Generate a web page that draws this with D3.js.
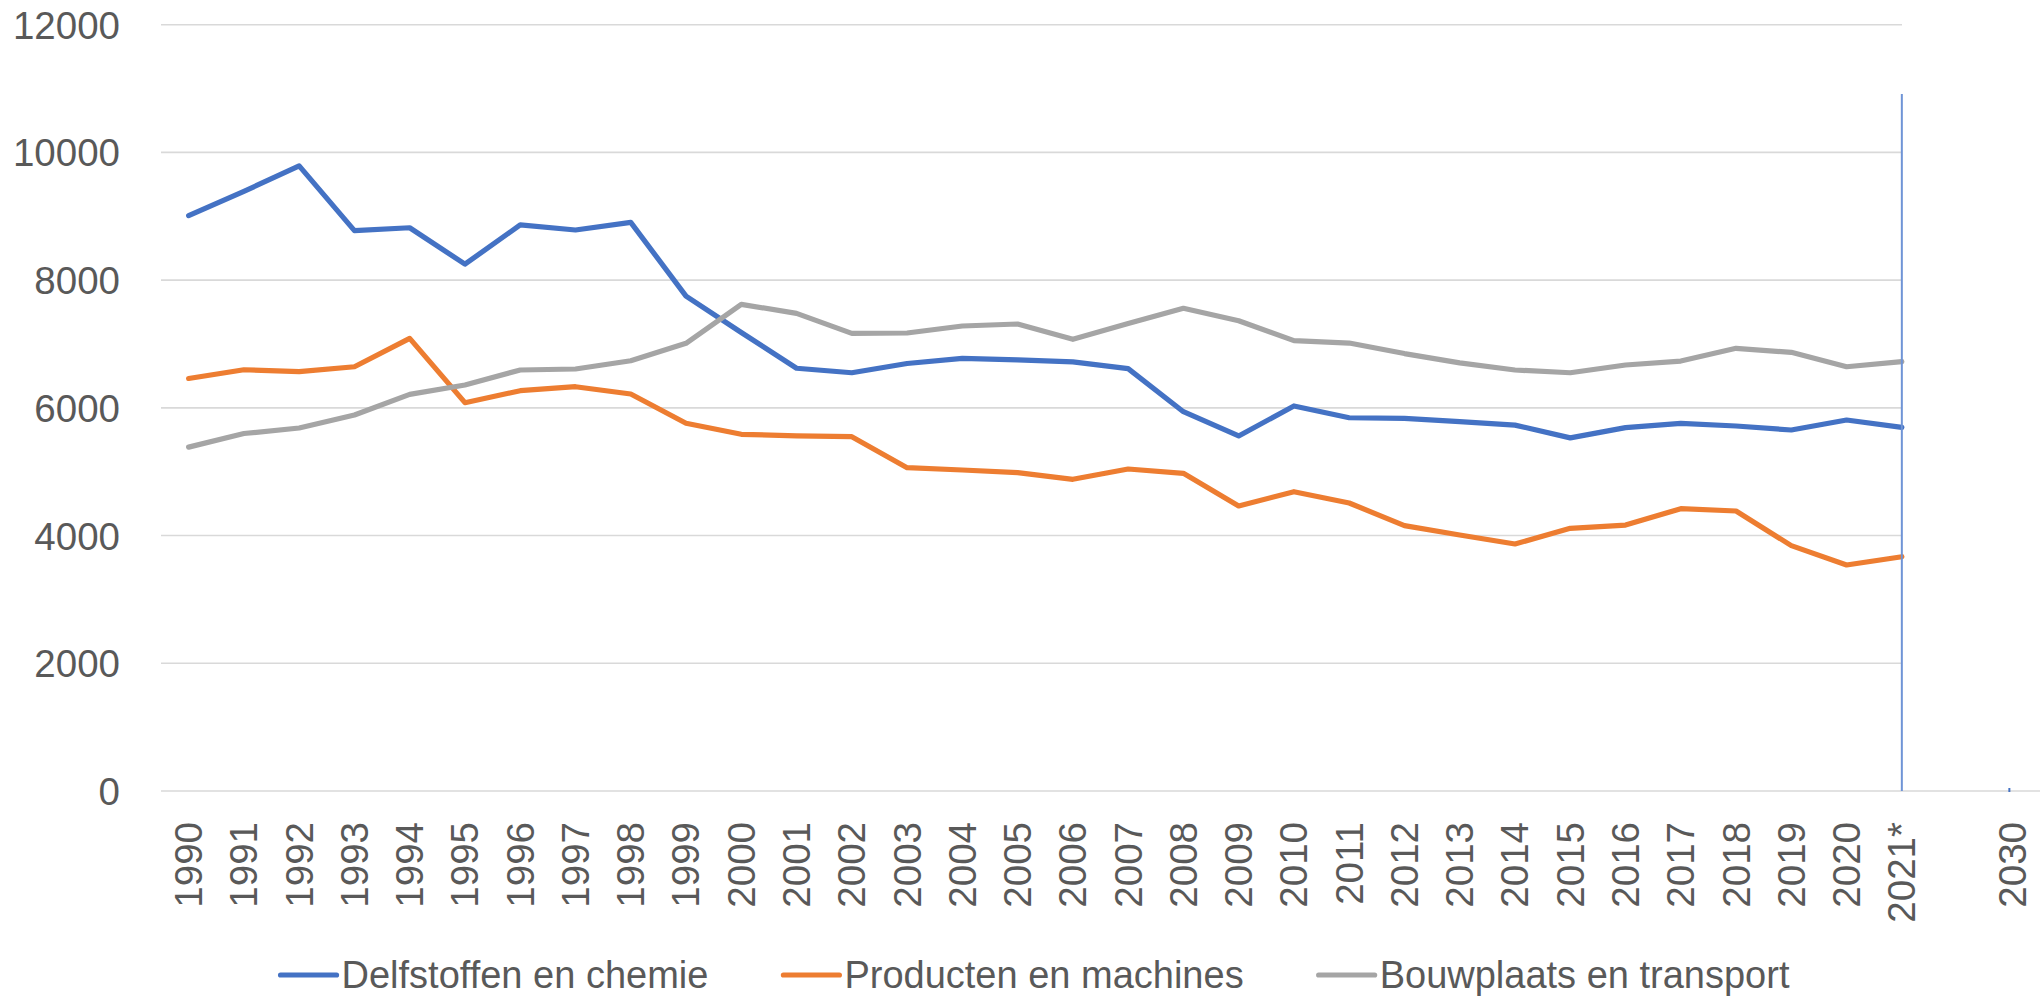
<!DOCTYPE html>
<html>
<head>
<meta charset="utf-8">
<script src="https://cdn.jsdelivr.net/npm/d3@7"></script>
<style>
  html, body { margin: 0; padding: 0; background: #ffffff; }
  svg { display: block; }
  text { font-family: "Liberation Sans", Arial, sans-serif; fill: #595959; }
</style>
</head>
<body>
<svg id="chart" width="2040" height="997"></svg>
<script>
// ---- Data ----
const categories = ["1990","1991","1992","1993","1994","1995","1996","1997","1998","1999",
  "2000","2001","2002","2003","2004","2005","2006","2007","2008","2009",
  "2010","2011","2012","2013","2014","2015","2016","2017","2018","2019",
  "2020","2021*","","2030"];

const delfstoffen = [9010, 9390, 9790, 8775, 8820, 8250, 8865, 8785, 8905, 7750,
  7180, 6620, 6550, 6695, 6775, 6750, 6720, 6615, 5940, 5560,
  6030, 5845, 5836, 5785, 5730, 5530, 5690, 5758, 5716, 5653,
  5810, 5695];

const producten = [6460, 6597, 6566, 6644, 7088, 6081, 6269, 6331, 6217, 5758,
  5586, 5560, 5548, 5063, 5027, 4985, 4881, 5042, 4975, 4463,
  4687, 4510, 4155, 4009, 3868, 4113, 4165, 4421, 4385, 3842,
  3539, 3669];

const bouwplaats = [5385, 5598, 5684, 5888, 6212, 6358, 6593, 6608, 6738, 7011,
  7621, 7480, 7167, 7172, 7282, 7313, 7073, 7320, 7559, 7365,
  7052, 7015, 6850, 6705, 6593, 6550, 6671, 6733, 6932, 6869,
  6644, 6723];

const seriesNames = ["Delfstoffen en chemie", "Producten en machines", "Bouwplaats en transport"];
const seriesColors = ["#4472C4", "#ED7D31", "#A5A5A5"];
const yTicks = [0, 2000, 4000, 6000, 8000, 10000, 12000];

// ---- Layout ----
const svg = d3.select("#chart");
const plotLeft = 161, plotRight = 2040, plotTop = 24.7, plotBottom = 791;
const gridRight = 1902;

const x = d3.scalePoint().domain(d3.range(categories.length)).range([plotLeft, plotRight]).padding(0.5);
const y = d3.scaleLinear().domain([0, 12000]).range([plotBottom, plotTop]);

// gridlines
const grid = svg.append("g");
grid.selectAll("line.grid").data(yTicks.filter(d => d > 0)).enter().append("line")
  .attr("x1", plotLeft).attr("x2", gridRight)
  .attr("y1", d => y(d)).attr("y2", d => y(d))
  .attr("stroke", "#D9D9D9").attr("stroke-width", 1.6);
// baseline axis
grid.append("line")
  .attr("x1", plotLeft).attr("x2", plotRight)
  .attr("y1", y(0)).attr("y2", y(0))
  .attr("stroke", "#D9D9D9").attr("stroke-width", 1.6);

// y axis labels
const yAxis = d3.axisLeft(y).tickValues(yTicks).tickSize(0).tickPadding(0).tickFormat(d3.format("d"));
const yg = svg.append("g").attr("transform", `translate(120,0)`).call(yAxis);
yg.select(".domain").remove();
yg.selectAll("text").attr("font-size", "38.5px").attr("fill", "#595959")
  .attr("font-family", "'Liberation Sans', Arial, sans-serif").attr("dy", "0.35em");

// x axis labels (rotated)
const xg = svg.append("g");
xg.selectAll("text.xl").data(categories.map((c, i) => ({c, i}))).enter().append("text")
  .attr("class", "xl")
  .attr("transform", d => `translate(${x(d.i)},822) rotate(-90)`)
  .attr("text-anchor", "end")
  .attr("dy", "0.35em")
  .attr("font-size", "38.5px")
  .text(d => d.c);

// small tick at 2030
svg.append("line")
  .attr("x1", x(33) - 3).attr("x2", x(33) - 3)
  .attr("y1", y(0) - 3).attr("y2", y(0) + 1)
  .attr("stroke", "#4472C4").attr("stroke-width", 2);

// series lines
const seriesData = [delfstoffen, producten, bouwplaats];
const line = d3.line().x((d, i) => x(i)).y(d => y(d));
const lines = svg.append("g");
seriesData.forEach((s, k) => {
  lines.append("path")
    .datum(s)
    .attr("d", line)
    .attr("fill", "none")
    .attr("stroke", seriesColors[k])
    .attr("stroke-width", 5.2)
    .attr("stroke-linejoin", "round")
    .attr("stroke-linecap", "round");
});

// vertical marker line at 2021*
svg.append("line")
  .attr("x1", x(31)).attr("x2", x(31))
  .attr("y1", 94).attr("y2", y(0))
  .attr("stroke", "#6F94D6").attr("stroke-width", 2);

// legend
const legend = svg.append("g");
const legendY = 975;
const swatchW = 56, swatchGap = 5, itemGap = 75;
const items = seriesNames.map((n, k) => {
  const g = legend.append("g");
  g.append("line").attr("x1", 0).attr("x2", swatchW).attr("y1", 0).attr("y2", 0)
    .attr("stroke", seriesColors[k]).attr("stroke-width", 5.2).attr("stroke-linecap", "round");
  const t = g.append("text").attr("x", swatchW + swatchGap).attr("y", 0).attr("dy", "0.35em")
    .attr("font-size", "38px").text(n);
  const w = swatchW + swatchGap + t.node().getComputedTextLength();
  return {g, w};
});
const total = d3.sum(items, d => d.w) + itemGap * (items.length - 1);
let cx = 1035 - total / 2;
items.forEach(it => {
  it.g.attr("transform", `translate(${cx},${legendY})`);
  cx += it.w + itemGap;
});
</script>
</body>
</html>
